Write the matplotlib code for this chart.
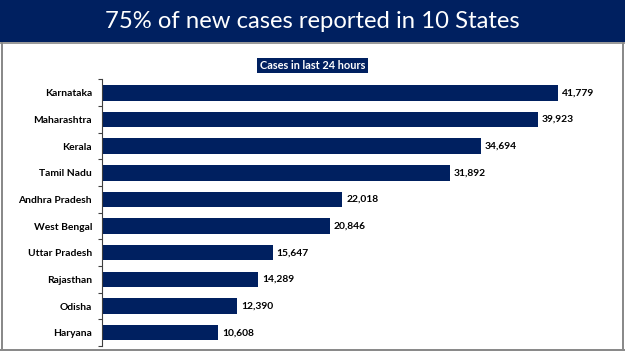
import matplotlib
matplotlib.use("Agg")
import matplotlib.pyplot as plt
from matplotlib.patches import Rectangle
import numpy as np

states = ["Karnataka", "Maharashtra", "Kerala", "Tamil Nadu", "Andhra Pradesh",
          "West Bengal", "Uttar Pradesh", "Rajasthan", "Odisha", "Haryana"]
cases = [41779, 39923, 34694, 31892, 22018, 20846, 15647, 14289, 12390, 10608]
title = "75% of new cases reported in 10 States"
subtitle = "Cases in last 24 hours"

NAVY = "#002060"
W, H = 625, 351
fig = plt.figure(figsize=(W/100, H/100), dpi=100)
fig.patch.set_facecolor("white")

# title bar
fig.add_artist(Rectangle((0, 1 - 42/H), 1, 42/H, transform=fig.transFigure,
                         facecolor=NAVY, edgecolor="none", zorder=0))
fig.add_artist(Rectangle((0, 1 - 44/H), 1, 2/H, transform=fig.transFigure,
                         facecolor="#9a9a9a", edgecolor="none", zorder=0))
# frame borders
for (x0, y0, w, h) in [(1/W, 0, 1.5/W, 1 - 42/H), (622/W, 0, 1.5/W, 1 - 42/H),
                       (0, 0, 1, 2/H)]:
    fig.add_artist(Rectangle((x0, y0), w, h, transform=fig.transFigure,
                             facecolor="#8a8a8a", edgecolor="none", zorder=0))

fig.text(312.5/W, 1 - 21/H, title, color="white", fontsize=17.2,
         family="Lato", ha="center", va="center")
fig.text(312.5/W, 1 - 65.5/H, subtitle, color="white", fontsize=7.9,
         family="Lato", weight="bold", ha="center", va="center",
         bbox=dict(boxstyle="square,pad=0.22", facecolor=NAVY, edgecolor="none"))

left, right = 102, 602
top, bottom = 79.5, 346
ax = fig.add_axes([left/W, 1 - bottom/H, (right-left)/W, (bottom-top)/H])
y = np.arange(len(states))
ax.barh(y, cases, height=0.58, color=NAVY, zorder=2)
scale = (558 - 102) / 41779
ax.set_xlim(0, (right - left) / scale)
ax.set_ylim(len(states) - 0.5, -0.5)
for yi, v in zip(y, cases):
    ax.text(v + 4/scale, yi, f"{v:,}", va="center", ha="left", fontsize=7.4,
            family="Lato", weight="bold", color="black")
ax.set_yticks(y)
ax.set_yticklabels(states, family="Lato", weight="bold", fontsize=7.4)
ax.tick_params(axis="y", which="major", length=0, pad=7.2)
ax.set_yticks(np.arange(-0.5, len(states), 1), minor=True)
ax.tick_params(axis="y", which="minor", length=3, width=0.8, color="#404040")
ax.set_xticks([])
for s in ["top", "right", "bottom"]:
    ax.spines[s].set_visible(False)
ax.spines["left"].set_color("#404040")
ax.spines["left"].set_linewidth(0.8)

fig.savefig("out.png", dpi=100, facecolor="white")
